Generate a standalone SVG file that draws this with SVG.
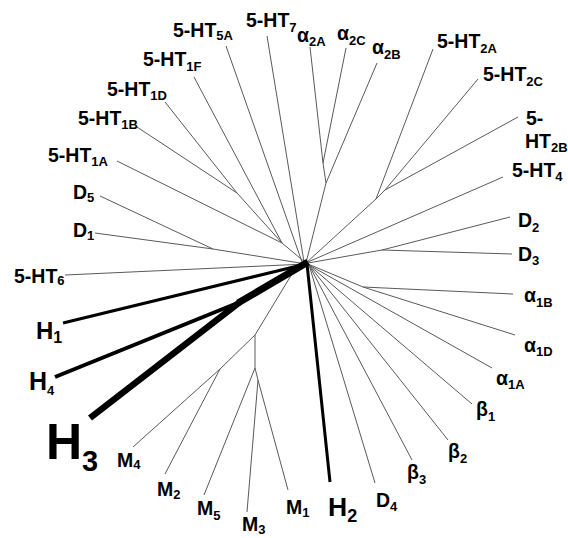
<svg xmlns="http://www.w3.org/2000/svg" width="568" height="538" viewBox="0 0 568 538">
<style>
text{font-family:"Liberation Sans",Arial,sans-serif;font-weight:bold;fill:#000}
.l{font-size:19.5px}
.s{font-size:13px}
.t{stroke:#5a5a5a;stroke-width:1;fill:none;stroke-linejoin:round}
.k{stroke:#000;fill:none;stroke-linecap:butt}
</style>
<rect width="568" height="538" fill="#fff"/>
<g id="connectors">
<polyline class="t" points="117,161 282,243 306,263"/>
<polyline class="t" points="137,127 237,193 282,243"/>
<line class="t" x1="165" y1="102" x2="237" y2="193"/>
<line class="t" x1="194" y1="77" x2="282" y2="243"/>
<line class="t" x1="226" y1="46" x2="302" y2="262"/>
<line class="t" x1="267" y1="36" x2="304" y2="262"/>
<polyline class="t" points="310,47 323,163 326,183 306,263"/>
<line class="t" x1="346" y1="48" x2="323" y2="163"/>
<line class="t" x1="377" y1="63" x2="326" y2="183"/>
<polyline class="t" points="433,49 376,199 306,263"/>
<polyline class="t" points="478,79 385,190 376,199"/>
<line class="t" x1="518" y1="117" x2="385" y2="190"/>
<line class="t" x1="503" y1="177" x2="308" y2="262"/>
<polyline class="t" points="510,217 382,250 308,263"/>
<line class="t" x1="512" y1="254" x2="382" y2="250"/>
<polyline class="t" points="513,294 363,287 308,264"/>
<line class="t" x1="515" y1="335" x2="363" y2="287"/>
<line class="t" x1="492" y1="368" x2="309" y2="265"/>
<line class="t" x1="472" y1="404" x2="309" y2="265"/>
<line class="t" x1="448" y1="440" x2="309" y2="265"/>
<line class="t" x1="412" y1="460" x2="309" y2="265"/>
<line class="t" x1="375" y1="483" x2="309" y2="265"/>
<polyline class="t" points="133,447 220,369 255,335 298,264"/>
<line class="t" x1="165" y1="474" x2="220" y2="369"/>
<polyline class="t" points="204,495 255,368 255,335"/>
<polyline class="t" points="247,512 258,380 255,368"/>
<line class="t" x1="288" y1="490" x2="258" y2="380"/>
<line class="t" x1="65" y1="275" x2="306" y2="264"/>
<polyline class="t" points="95,233 213,249 306,264"/>
<line class="t" x1="100" y1="196" x2="213" y2="249"/>
<line class="k" x1="330" y1="482" x2="307" y2="264" stroke-width="3"/>
<line class="k" x1="63" y1="323" x2="306" y2="264" stroke-width="3"/>
<line class="k" x1="55" y1="377" x2="240" y2="302" stroke-width="4"/>
<line class="k" x1="90" y1="418" x2="240" y2="302" stroke-width="6.5"/>
<line class="k" x1="238" y1="303" x2="308" y2="262" stroke-width="7" stroke-linecap="round"/>
</g>
<g id="n-5ht5a"><text class="l" x="173" y="37">5-HT<tspan class="s" dy="3">5A</tspan></text></g>
<g id="n-5ht1f"><text class="l" x="143" y="66">5-HT<tspan class="s" dy="5">1F</tspan></text></g>
<g id="n-5ht1d"><text class="l" x="107" y="96">5-HT<tspan class="s" dy="4">1D</tspan></text></g>
<g id="n-5ht1b"><text class="l" x="78" y="125">5-HT<tspan class="s" dy="4">1B</tspan></text></g>
<g id="n-5ht1a"><text class="l" x="48" y="162">5-HT<tspan class="s" dy="4">1A</tspan></text></g>
<g id="n-5ht7"><text class="l" x="246" y="27">5-HT<tspan class="s" dy="5">7</tspan></text></g>
<g id="n-a2a"><text class="l" x="297" y="42">α<tspan class="s" dy="4">2A</tspan></text></g>
<g id="n-a2c"><text class="l" x="337" y="40">α<tspan class="s" dy="5">2C</tspan></text></g>
<g id="n-a2b"><text class="l" x="372" y="54">α<tspan class="s" dy="5">2B</tspan></text></g>
<g id="n-5ht2a"><text class="l" x="437" y="48">5-HT<tspan class="s" dy="5">2A</tspan></text></g>
<g id="n-5ht2c"><text class="l" x="483" y="81">5-HT<tspan class="s" dy="5">2C</tspan></text></g>
<g id="n-5ht2b"><text class="l" x="526" y="125">5-</text><text class="l" x="525" y="148">HT<tspan class="s" dy="4" font-size="12.5">2B</tspan></text></g>
<g id="n-5ht4"><text class="l" x="512" y="177">5-HT<tspan class="s" dy="4">4</tspan></text></g>
<g id="n-d2"><text class="l" x="518" y="227">D<tspan class="s" dy="5">2</tspan></text></g>
<g id="n-d3"><text class="l" x="518" y="261">D<tspan class="s" dy="4">3</tspan></text></g>
<g id="n-a1b"><text class="l" x="524" y="302">α<tspan class="s" dy="5">1B</tspan></text></g>
<g id="n-a1d"><text class="l" x="524" y="352">α<tspan class="s" dy="4">1D</tspan></text></g>
<g id="n-a1a"><text class="l" x="496" y="385">α<tspan class="s" dy="4">1A</tspan></text></g>
<g id="n-b1"><text class="l" x="476" y="416">β<tspan class="s" dy="5">1</tspan></text></g>
<g id="n-b2"><text class="l" x="448" y="458">β<tspan class="s" dy="5">2</tspan></text></g>
<g id="n-b3"><text class="l" x="407" y="479">β<tspan class="s" dy="5">3</tspan></text></g>
<g id="n-d4"><text class="l" x="376" y="507">D<tspan class="s" dy="4">4</tspan></text></g>
<g id="n-h2"><text x="328" y="516" font-size="26.5">H<tspan dy="6" font-size="18">2</tspan></text></g>
<g id="n-m1"><text class="l" x="286" y="514">M<tspan class="s" dy="3">1</tspan></text></g>
<g id="n-m3"><text class="l" x="242" y="531">M<tspan class="s" dy="3">3</tspan></text></g>
<g id="n-m5"><text class="l" x="197" y="515">M<tspan class="s" dy="5">5</tspan></text></g>
<g id="n-m2"><text class="l" x="157" y="496">M<tspan class="s" dy="3">2</tspan></text></g>
<g id="n-m4"><text class="l" x="117" y="467">M<tspan class="s" dy="2">4</tspan></text></g>
<g id="n-h3"><text x="46" y="459" font-size="50">H<tspan dy="12" font-size="29">3</tspan></text></g>
<g id="n-h4"><text x="29" y="390" font-size="25">H<tspan dy="5" font-size="13">4</tspan></text></g>
<g id="n-h1"><text x="36" y="339" font-size="24">H<tspan dy="4" font-size="16">1</tspan></text></g>
<g id="n-5ht6"><text class="l" x="14" y="283">5-HT<tspan class="s" dy="2">6</tspan></text></g>
<g id="n-d1"><text class="l" x="73" y="237">D<tspan class="s" dy="3">1</tspan></text></g>
<g id="n-d5"><text class="l" x="73" y="199">D<tspan class="s" dy="3">5</tspan></text></g>
</svg>
